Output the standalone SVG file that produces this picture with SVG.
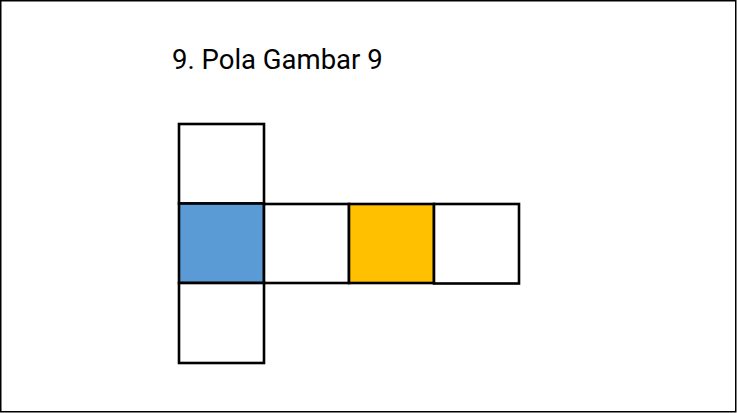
<svg xmlns="http://www.w3.org/2000/svg" width="737" height="413" viewBox="0 0 737 413">
<style>
.sq{stroke:#000;stroke-width:2.6}
.t{font-family:Roboto,"Liberation Sans",sans-serif;font-size:27.5px;font-weight:400;fill:#000}
</style>
<rect x="0.75" y="0.75" width="735" height="411" fill="#fff" stroke="#000" stroke-width="1.5"/>
<text class="t" x="172" y="69">9. Pola Gambar 9</text>
<g id="top"><rect class="sq" x="179" y="124" width="85" height="79.5" fill="#fff"/></g>
<g id="blue"><rect class="sq" x="179" y="203.5" width="85" height="79.5" fill="#5b9bd5"/></g>
<g id="mid"><rect class="sq" x="264" y="204" width="85" height="79" fill="#fff"/></g>
<g id="yellow"><rect class="sq" x="349" y="204" width="85" height="79" fill="#ffc000"/></g>
<g id="right"><rect class="sq" x="434" y="204" width="85" height="79.5" fill="#fff"/></g>
<g id="bottom"><rect class="sq" x="179" y="283" width="85" height="80" fill="#fff"/></g>
<g id="connectors"></g>
</svg>
